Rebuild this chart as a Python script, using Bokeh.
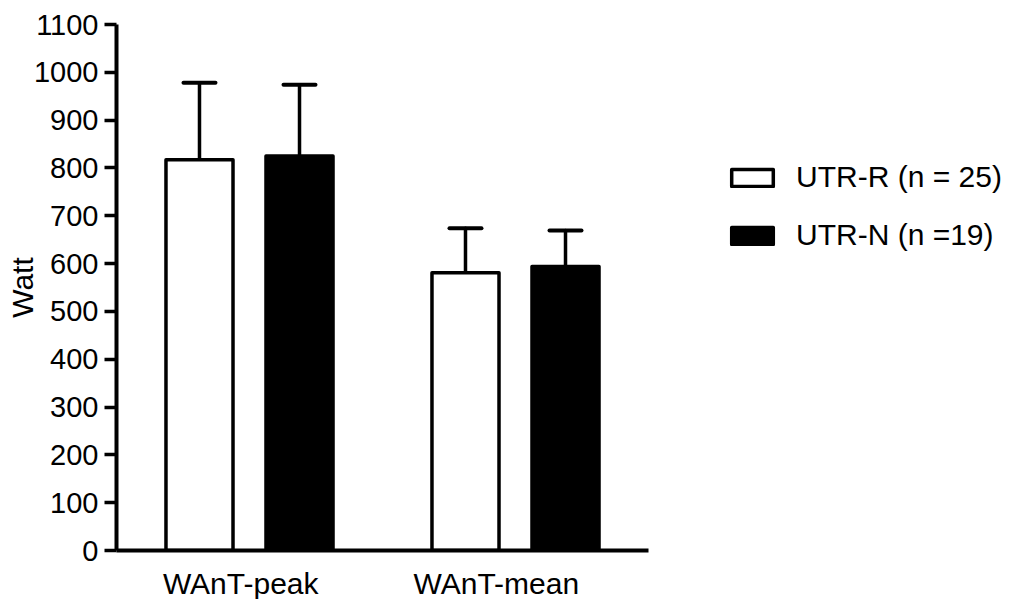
from bokeh.plotting import figure
from bokeh.models import (ColumnDataSource, Range1d, FixedTicker, Whisker, TeeHead,
                          Legend, LegendItem)
from bokeh.embed import file_html
from bokeh.resources import INLINE

# ---- data ----
categories = ["WAnT-peak", "WAnT-mean"]
series_names = ["UTR-R (n = 25)", "UTR-N (n =19)"]
utr_r_mean = [817, 581]
utr_r_sd = [161, 93]
utr_n_mean = [825, 594]
utr_n_sd = [149, 75]
y_ticks = [0, 100, 200, 300, 400, 500, 600, 700, 800, 900, 1000, 1100]

FONT = "Liberation Sans"
offset = 0.188
bar_w = 0.252
label_nudge = [-0.033, -0.072]

group_x = list(range(len(categories)))

p = figure(frame_width=532, frame_height=526, output_backend="svg", toolbar_location=None,
           x_range=Range1d(-0.5, 1.5), y_range=Range1d(0, 1100),
           min_border_left=116, min_border_right=0, min_border_top=24,
           min_border_bottom=41)
p.outline_line_color = None
p.grid.visible = False
p.background_fill_color = "white"
p.border_fill_color = "white"

renderers = []
for k, (means, sds, fill) in enumerate([(utr_r_mean, utr_r_sd, "white"),
                                        (utr_n_mean, utr_n_sd, "black")]):
    xs = [g + (-offset if k == 0 else offset) for g in group_x]
    upper = [m + s for m, s in zip(means, sds)]
    src = ColumnDataSource(dict(x=xs, top=means, upper=upper))
    w = Whisker(source=src, base="x", lower="top", upper="upper",
                line_width=3.5, line_color="black", line_cap="round",
                lower_head=None,
                upper_head=TeeHead(size=32, line_width=4, line_color="black", line_cap="round"))
    p.add_layout(w)
    r = p.vbar(x="x", top="top", width=bar_w, bottom=0, source=src,
               fill_color=fill, line_color="black", line_width=3.5,
               line_join="round")
    renderers.append(r)

# y axis
ya = p.yaxis[0]
ya.ticker = FixedTicker(ticks=y_ticks)
ya.axis_label = "Watt"
ya.axis_label_text_font = FONT
ya.axis_label_text_font_size = "30px"
ya.axis_label_text_font_style = "normal"
ya.axis_label_text_color = "black"
ya.axis_label_standoff = -8
ya.major_label_text_font = FONT
ya.major_label_text_font_size = "29px"
ya.major_label_text_color = "black"
ya.major_label_standoff = 6
ya.axis_line_width = 4
ya.major_tick_line_width = 3.5
ya.major_tick_out = 12
ya.major_tick_in = 0
ya.minor_tick_line_color = None

# x axis
xa = p.xaxis[0]
label_pos = [g + d for g, d in zip(group_x, label_nudge)]
xa.ticker = FixedTicker(ticks=label_pos)
xa.major_label_overrides = {lp: c for lp, c in zip(label_pos, categories)}
xa.major_label_text_font = FONT
xa.major_label_text_font_size = "30px"
xa.major_label_text_color = "black"
xa.major_label_standoff = 10
xa.axis_line_width = 4
xa.major_tick_line_color = None
xa.minor_tick_line_color = None

legend = Legend(items=[LegendItem(label=n, renderers=[r]) for n, r in zip(series_names, renderers)],
                location=(78, 298), orientation="vertical",
                label_text_font=FONT, label_text_font_size="30px",
                label_text_color="black",
                glyph_width=52, glyph_height=21, label_height=21,
                spacing=24, padding=0, margin=0, label_standoff=18,
                border_line_color=None, background_fill_alpha=0)
p.add_layout(legend, "right")

open("out.html", "w").write(file_html(p, INLINE))
